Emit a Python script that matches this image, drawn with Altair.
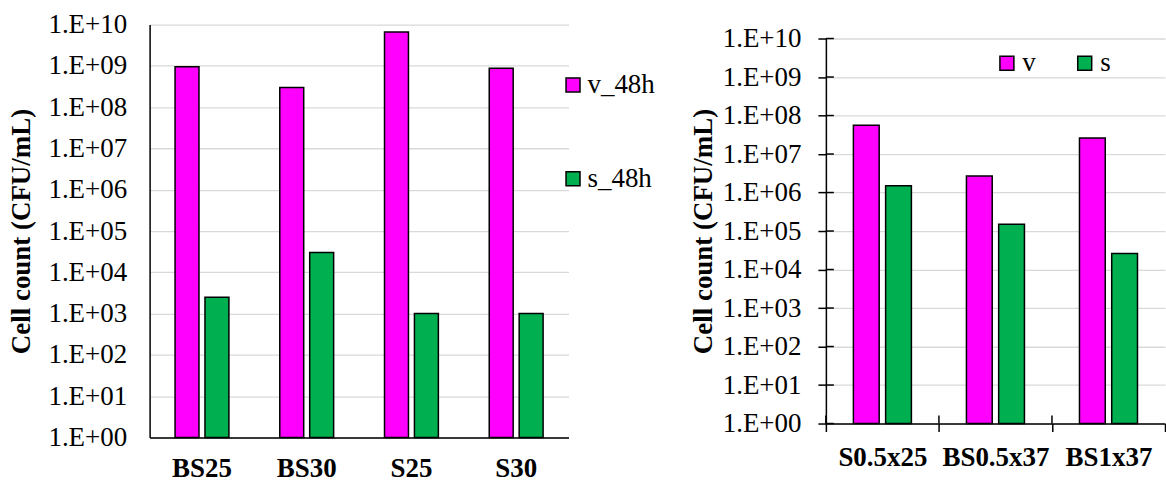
import altair as alt
import pandas as pd

# ---- data ----
left_categories = ["BS25", "BS30", "S25", "S30"]
left_series = ["v_48h", "s_48h"]
left_v = [9.5e8, 3.0e8, 6.6e9, 8.8e8]
left_s = [2.5e3, 3.0e4, 1.0e3, 1.0e3]

right_categories = ["S0.5x25", "BS0.5x37", "BS1x37"]
right_series = ["v", "s"]
right_v = [5.6e7, 2.7e6, 2.6e7]
right_s = [1.5e6, 1.5e5, 2.6e4]

decades = [1, 1e1, 1e2, 1e3, 1e4, 1e5, 1e6, 1e7, 1e8, 1e9, 1e10]
colors = ["#FF00FF", "#00B050"]

FONT = "Liberation Serif"
FS = 27

left_df = pd.DataFrame(
    [{"cat": c, "series": left_series[0], "value": v} for c, v in zip(left_categories, left_v)]
    + [{"cat": c, "series": left_series[1], "value": v} for c, v in zip(left_categories, left_s)]
)
right_df = pd.DataFrame(
    [{"cat": c, "series": right_series[0], "value": v} for c, v in zip(right_categories, right_v)]
    + [{"cat": c, "series": right_series[1], "value": v} for c, v in zip(right_categories, right_s)]
)
dec_df = pd.DataFrame({"value": decades})
rcat_df = pd.DataFrame({"cat": right_categories})

label_expr = "'1.E+' + (datum.value < 1e10 ? '0' : '') + format(log(datum.value)/LN10, '.0f')"
yscale = alt.Scale(type="log", domain=[1, 1e10], nice=False)

# ---- left chart ----
LW, LH = 420, 414
left_yaxis = alt.Axis(
    values=decades, labelExpr=label_expr, ticks=False, labelPadding=23,
    title="Cell count (CFU/mL)", titlePadding=12, grid=True,
    gridColor="#D9D9D9", gridWidth=1.3, domainColor="black", domainWidth=1.5,
    labelFont=FONT, labelFontSize=FS, labelColor="black",
    titleFont=FONT, titleFontSize=FS, titleFontWeight="bold", titleColor="black",
)
left_xaxis = alt.Axis(
    title=None, ticks=False, labelAngle=0, labelPadding=18, domainColor="black", domainWidth=1.5,
    labelFont=FONT, labelFontSize=FS, labelFontWeight="bold", labelColor="black",
)
left = alt.Chart(left_df).mark_bar(stroke="black", strokeWidth=1.5).encode(
    x=alt.X("cat:N", sort=left_categories, scale=alt.Scale(paddingInner=0, paddingOuter=0), axis=left_xaxis),
    xOffset=alt.XOffset("series:N", sort=left_series, scale=alt.Scale(paddingInner=0.2, paddingOuter=0.85)),
    y=alt.Y("value:Q", scale=yscale, axis=left_yaxis, stack=None),
    y2=alt.value(LH),
    color=alt.Color(
        "series:N", sort=left_series,
        scale=alt.Scale(domain=left_series, range=colors),
        legend=alt.Legend(
            title=None, orient="none", legendX=411, legendY=47, direction="vertical",
            symbolType="square", symbolSize=196, symbolStrokeColor="black", symbolStrokeWidth=1.5,
            symbolOpacity=1, labelFont=FONT, labelFontSize=FS, labelColor="black",
            labelOffset=1, rowPadding=66, padding=0,
        ),
    ),
).properties(width=LW, height=LH)

# ---- right chart ----
RW, RH = 340, 386
right_yaxis = alt.Axis(
    values=decades, labelExpr=label_expr, ticks=True, tickSize=8, tickColor="black", tickWidth=1.5,
    labelPadding=17, title="Cell count (CFU/mL)", titlePadding=5, grid=True,
    gridColor="#D9D9D9", gridWidth=1.3, domainColor="black", domainWidth=1.5,
    labelFont=FONT, labelFontSize=FS, labelColor="black",
    titleFont=FONT, titleFontSize=FS, titleFontWeight="bold", titleColor="black",
)
right_xaxis = alt.Axis(
    title=None, ticks=True, tickBand="extent", tickSize=8, tickColor="black", tickWidth=1.5,
    labelAngle=0, labelPadding=13, domainColor="black", domainWidth=1.5,
    labelFont=FONT, labelFontSize=FS, labelFontWeight="bold", labelColor="black",
)
rx = alt.X("cat:N", sort=right_categories, scale=alt.Scale(paddingInner=0, paddingOuter=0), axis=right_xaxis)

right_bars = alt.Chart(right_df).mark_bar(stroke="black", strokeWidth=1.5).encode(
    x=rx,
    xOffset=alt.XOffset("series:N", sort=right_series, scale=alt.Scale(paddingInner=0.2, paddingOuter=0.854)),
    y=alt.Y("value:Q", scale=yscale, axis=right_yaxis, stack=None),
    y2=alt.value(RH),
    color=alt.Color(
        "series:N", sort=right_series,
        scale=alt.Scale(domain=right_series, range=colors),
        legend=alt.Legend(
            title=None, orient="none", legendX=168, legendY=11, direction="horizontal",
            symbolType="square", symbolSize=196, symbolStrokeColor="black", symbolStrokeWidth=1.5,
            symbolOpacity=1, labelFont=FONT, labelFontSize=FS, labelColor="black",
            labelOffset=2, columnPadding=35, padding=0,
        ),
    ),
)
right_yticks = alt.Chart(dec_df).mark_rule(color="black", strokeWidth=1.5).encode(
    y=alt.Y("value:Q", scale=yscale, axis=right_yaxis),
    x=alt.value(0), x2=alt.value(8),
)
right_xticks = alt.Chart(rcat_df).mark_rule(color="black", strokeWidth=1.5).encode(
    x=alt.X("cat:N", sort=right_categories, bandPosition=0,
            scale=alt.Scale(paddingInner=0, paddingOuter=0), axis=right_xaxis),
    y=alt.value(RH - 8), y2=alt.value(RH),
)
right = alt.layer(right_bars, right_yticks, right_xticks).properties(width=RW, height=RH)

chart = alt.hconcat(left, right, spacing=258, bounds="flush", center=True).resolve_scale(
    x="independent", y="independent", color="independent", xOffset="independent"
).resolve_legend(color="independent").properties(
    padding={"left": 8, "top": 10, "right": 0, "bottom": 0}
).configure(font=FONT).configure_view(stroke=None)

chart.save("out.html", embed_options={"renderer": "svg", "actions": False})
